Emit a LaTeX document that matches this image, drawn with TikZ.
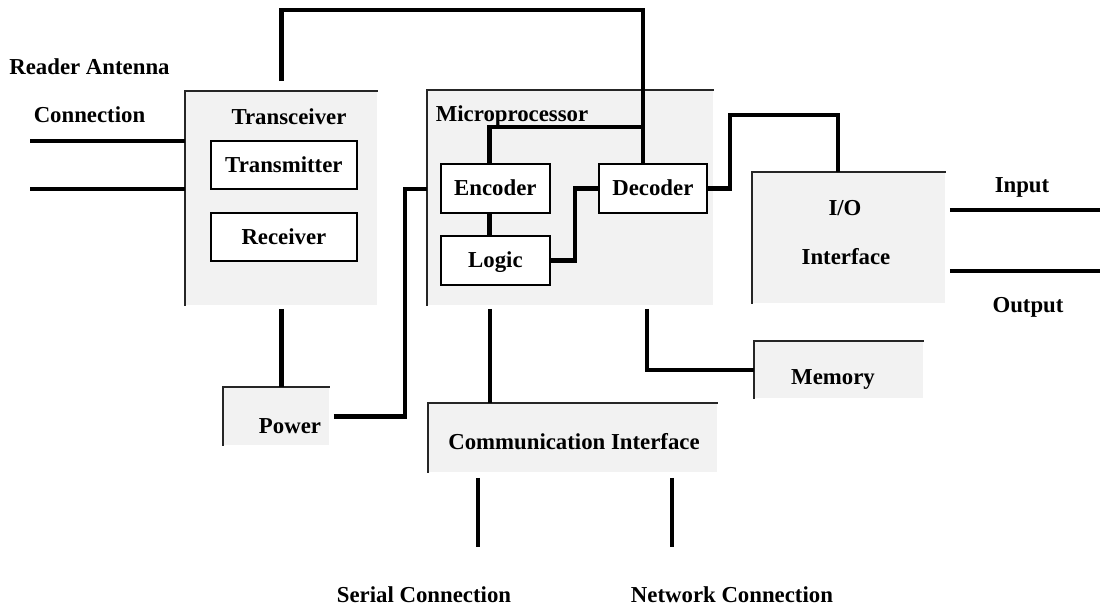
\documentclass[tikz,border=0pt]{standalone}
\usepackage{fontspec}
\setmainfont{Liberation Serif}
\begin{document}
\begin{tikzpicture}[x=0.5pt,y=-0.5pt,
        font=\fontsize{11.4}{13.7}\selectfont\bfseries,
        every node/.style={text height=7.5pt,text depth=0pt},
        unit/.style={fill=black!5,inner sep=0pt,anchor=north west},
        part/.style={draw,line width=0.9pt,fill=white,inner sep=0pt,anchor=north west,minimum height=24pt},
        frame/.style={line width=0.6pt,black!85},
        wire/.style={line width=2.2pt}]
        \useasboundingbox (0,0) rectangle (1100,605);
        %% blocks
        \node[unit,minimum width=96pt,minimum height=107pt] (trx) at (185,91) {};
        \node[unit,minimum width=143pt,minimum height=107.5pt] (mpu) at (427,90) {};
        \node[unit,minimum width=96.5pt,minimum height=65.5pt] (io) at (752,172) {};
        \node[unit,minimum width=84.5pt,minimum height=28.5pt] (mem) at (754,341) {};
        \node[unit,minimum width=53pt,minimum height=29pt] (pwr) at (223,387) {};
        \node[unit,minimum width=144.5pt,minimum height=34.5pt] (comm) at (428,403) {};
        \foreach \b in {trx,mpu,io,mem,pwr,comm} {
            \draw[frame] (\b.south west) |- (\b.north east);
        }
        %% block titles
        \node (trxlbl) at (289,117) {Transceiver};
        \node (mpulbl) at (512,114) {Microprocessor};
        \node (iolbl) at (845,208) {I/O};
        \node (iflbl) at (846,257) {Interface};
        \node (memlbl) at (833,377) {Memory};
        \node (pwrlbl) at (290,426) {Power};
        \node (commlbl) at (574,442) {Communication Interface};
        %% inner parts
        \node[part,minimum width=73pt] (tx) at (210,140) {Transmitter};
        \node[part,minimum width=73pt] (rx) at (210,212) {Receiver};
        \node[part,minimum width=54.5pt,minimum height=24.5pt] (enc) at (440,163) {Encoder};
        \node[part,minimum width=54.5pt,minimum height=24.5pt] (logic) at (440,235) {Logic};
        \node[part,minimum width=54pt,minimum height=24.5pt] (dec) at (598,163) {Decoder};
        %% outside labels
        \node (antlbl) at (89.5,67) {Reader Antenna};
        \node (conlbl) at (89.5,115) {Connection};
        \node (inlbl) at (1022,185) {Input};
        \node (outlbl) at (1028,305) {Output};
        \node (serial) at (424,595) {Serial Connection};
        \node (network) at (732,595) {Network Connection};
        %% wires
        \coordinate (top) at (643,10);
        \coordinate (split) at (643,127);
        \coordinate (ioin) at (838,115);
        \coordinate (pwrup) at (405,189);
        \coordinate (mc) at (490,0);
        \coordinate (mm) at (647,0);
        \coordinate (ant1) at (30,141);
        \coordinate (ant2) at (30,189);
        \coordinate (inp) at (1100,210);
        \coordinate (outp) at (1100,271);
        \coordinate (ser) at (478,547);
        \coordinate (net) at (672,547);
        \draw[wire,shorten <=5pt] (trx.north) |- (top) -- (top |- dec.north);
        \draw[wire] ([xshift=-3pt]enc.north) |- (split);
        \draw[wire] ([xshift=-3pt]enc.south) -- ([xshift=-3pt]logic.north);
        \draw[wire] (logic.east) -- ++(12pt,0) |- (dec.west);
        \draw[wire] (dec.east) -- ++(11pt,0) |- (ioin) -- (ioin |- io.north);
        \draw[wire,shorten <=2pt] (pwr.east) -| (pwrup) -- (pwrup -| mpu.west);
        \draw[wire,shorten <=1.5pt] (trx.south) -- (trx.south |- pwr.north);
        \draw[wire,shorten <=1.5pt] (mc |- mpu.south) -- (mc |- comm.north);
        \draw[wire,shorten <=1.5pt] (mm |- mpu.south) |- (mem.west);
        \draw[wire] (ant1) -- (ant1 -| trx.west);
        \draw[wire] (ant2) -- (ant2 -| trx.west);
        \draw[wire,shorten <=2pt] (inp -| io.east) -- (inp);
        \draw[wire,shorten <=2pt] (outp -| io.east) -- (outp);
        \draw[wire,shorten <=2.5pt] (ser |- comm.south) -- (ser);
        \draw[wire,shorten <=2.5pt] (net |- comm.south) -- (net);
    \end{tikzpicture}
\end{document}
